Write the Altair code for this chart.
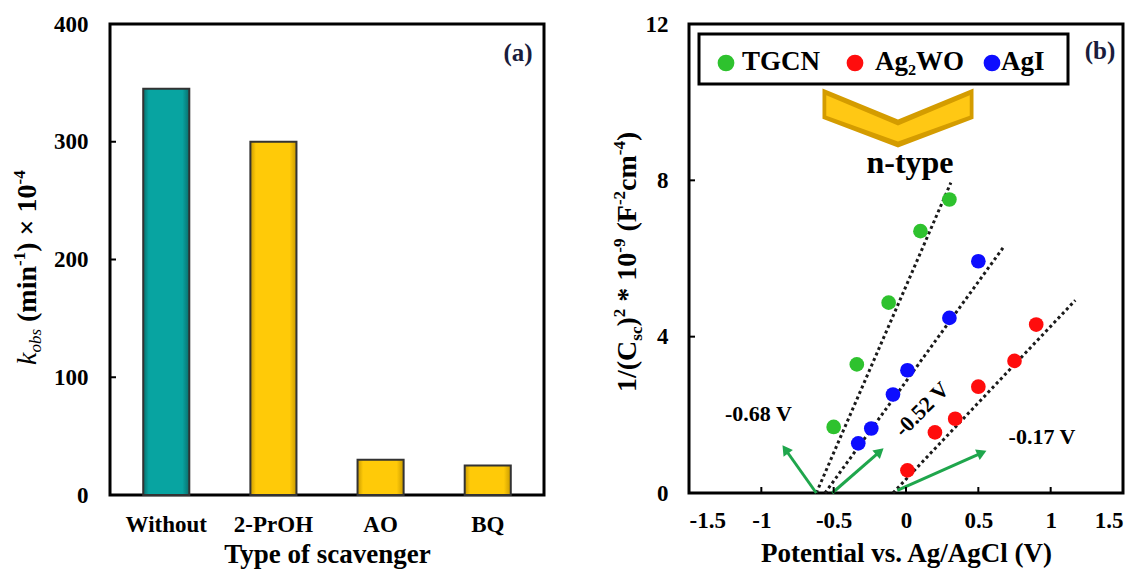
import math
import altair as alt
import pandas as pd

# ---------------- data ----------------
scavengers = ["Without", "2-PrOH", "AO", "BQ"]
kobs = [345, 300, 30, 25]
a_yticks = [0, 100, 200, 300, 400]

series_names = ["TGCN", "Ag₂WO", "AgI"]
series_colors = ["#2ec22e", "#ff0d0d", "#0d0dff"]
tgcn_x = [-0.50, -0.34, -0.12, 0.10, 0.30]
tgcn_y = [1.69, 3.29, 4.87, 6.70, 7.51]
agwo_x = [0.01, 0.20, 0.34, 0.50, 0.75, 0.90]
agwo_y = [0.58, 1.55, 1.90, 2.72, 3.38, 4.31]
agi_x = [-0.33, -0.24, -0.09, 0.01, 0.30, 0.50]
agi_y = [1.27, 1.65, 2.52, 3.14, 4.48, 5.93]

fit_x1 = [-0.62, -0.09, -0.56]
fit_y1 = [0.0, 0.0, 0.0]
fit_x2 = [0.31, 1.17, 0.67]
fit_y2 = [7.94, 4.93, 6.27]

arrow_x1 = [-0.62, -0.51, -0.06]
arrow_y1 = [0.0, 0.0, 0.07]
arrow_x2 = [-0.85, -0.16, 0.55]
arrow_y2 = [1.20, 1.13, 1.07]

ann_text = ["-0.68 V", "-0.52 V", "-0.17 V"]
ann_x = [-1.02, 0.11, 0.94]
ann_y = [2.03, 2.14, 1.44]
ann_angle = [0, 315, 0]

b_xticks = [-1.5, -1, -0.5, 0, 0.5, 1, 1.5]
b_yticks = [0, 4, 8, 12]

# ---------------- style ----------------
FONT = "Liberation Serif"
WA, HA = 434, 471
WB, HB = 434, 469
MAIN, SMALL = 28, 17
BOLD_W = {' ': 250, '(': 333, ')': 333, 'm': 833, 'i': 278, 'n': 556, '1': 500, '0': 500,
          '-': 333, '4': 500, '×': 570, '*': 500, '/': 278, 'C': 722, 'F': 611, 'c': 444,
          '2': 500, '9': 500, 's': 389}
ITAL_W = {'k': 444, 'o': 500, 'b': 500, 's': 389}


def one():
    return pd.DataFrame({"k": [0]})


def txt(t, x, y, size, weight="bold", style="normal", angle=0, align="center",
        baseline="middle", color="black", opacity=1.0):
    return alt.Chart(pd.DataFrame({"t": [t]})).mark_text(
        font=FONT, fontSize=size, fontWeight=weight, fontStyle=style, angle=angle,
        align=align, baseline=baseline, color=color, opacity=opacity
    ).encode(text="t:N", x=alt.value(x), y=alt.value(y))


def rotated_title(pieces, x_main, x_sub, x_sup, y_start):
    layers = []
    y = y_start
    for t, kind, style in pieces:
        size = MAIN if kind == "main" else SMALL
        x = {"main": x_main, "sub": x_sub, "sup": x_sup}[kind]
        table = ITAL_W if style == "italic" else BOLD_W
        lead = len(t) - len(t.lstrip(" "))
        y -= lead * table.get(" ", 250) / 1000.0 * size
        t = t.lstrip(" ")
        w = sum(table.get(ch, 500) for ch in t) / 1000.0 * size
        layers.append(txt(t, x, y, size, weight="normal" if style == "italic" else "bold",
                          style=style, angle=270, align="left", baseline="alphabetic"))
        y -= w
    return layers


# ---------------- panel (a) ----------------
df_a = pd.DataFrame({"scavenger": scavengers, "kobs": kobs})
xa_scale = alt.Scale(domain=scavengers, paddingInner=0.57, paddingOuter=0.31)
ya_scale = alt.Scale(domain=[0, 400], nice=False)
ya_axis = alt.Axis(values=a_yticks, title=None, ticks=False, tickSize=0, domain=False,
                   grid=False, labelPadding=22, labelFontSize=23)
xa = alt.X("scavenger:N", sort=scavengers, scale=xa_scale,
           axis=alt.Axis(title="Type of scavenger", labelAngle=0, ticks=False, tickSize=0,
                         domain=False, labelPadding=18, labelFontSize=23,
                         titlePadding=5, titleFontSize=27))


def grad(dark, main):
    return alt.LinearGradient(
        gradient="linear", x1=0, x2=1, y1=0, y2=0,
        stops=[alt.GradientStop(color=dark, offset=0),
               alt.GradientStop(color=main, offset=0.12),
               alt.GradientStop(color=main, offset=0.85),
               alt.GradientStop(color=dark, offset=1)])


bars_teal = alt.Chart(df_a).transform_filter(alt.datum.scavenger == "Without").mark_bar(
    color=grad("#0a6e6c", "#08a4a1"), stroke="#333333", strokeWidth=2
).encode(x=xa, y=alt.Y("kobs:Q", scale=ya_scale, axis=ya_axis))
bars_gold = alt.Chart(df_a).transform_filter(alt.datum.scavenger != "Without").mark_bar(
    color=grad("#c99a00", "#ffca08"), stroke="#333333", strokeWidth=2
).encode(x=xa, y=alt.Y("kobs:Q", scale=ya_scale, axis=ya_axis))
ticks_a = alt.Chart(pd.DataFrame({"v": a_yticks})).mark_rule(color="black", strokeWidth=2).encode(
    y=alt.Y("v:Q", scale=ya_scale, axis=ya_axis), x=alt.value(0), x2=alt.value(6))

title_a = rotated_title(
    [("k", "main", "italic"), ("obs", "sub", "italic"), (" (min", "main", "bold"),
     ("-1", "sup", "bold"), (") × 10", "main", "bold"), ("-4", "sup", "bold")],
    x_main=-74, x_sub=-69, x_sup=-85, y_start=341)
label_a = txt("(a)", 408, 29, 25, color="#1a1c3c")

chart_a = alt.layer(bars_teal, bars_gold, ticks_a, label_a, *title_a).properties(width=WA, height=HA)

# ---------------- panel (b) ----------------
xb_scale = alt.Scale(domain=[-1.5, 1.5], nice=False, zero=False)
yb_scale = alt.Scale(domain=[0, 12], nice=False, zero=False)
xb_axis = alt.Axis(values=b_xticks, title="Potential vs. Ag/AgCl (V)", ticks=False, tickSize=0,
                   domain=False, grid=False, labelPadding=16, labelFontSize=23,
                   labelExpr="datum.value + ''", titlePadding=8, titleFontSize=27)
yb_axis = alt.Axis(values=b_yticks, title=None, ticks=False, tickSize=0, domain=False,
                   grid=False, labelPadding=21, labelFontSize=23, labelExpr="datum.value + ''")


def xb(f):
    return alt.X(f, scale=xb_scale, axis=xb_axis)


def yb(f):
    return alt.Y(f, scale=yb_scale, axis=yb_axis)


rows = []
for name, xs, ys in zip(series_names, [tgcn_x, agwo_x, agi_x], [tgcn_y, agwo_y, agi_y]):
    for xv, yv in zip(xs, ys):
        rows.append({"series": name, "x": xv, "y": yv})
df_pts = pd.DataFrame(rows)

df_fit = pd.DataFrame({"series": series_names, "x1": fit_x1, "y1": fit_y1,
                       "x2": fit_x2, "y2": fit_y2})

# arrows: shaft + triangle head, head direction derived from the data in screen space
sx, sy = WB / 3.0, HB / 12.0
hx, hy, hang, ex, ey = [], [], [], [], []
for x1, y1, x2, y2 in zip(arrow_x1, arrow_y1, arrow_x2, arrow_y2):
    dxp, dyp = (x2 - x1) * sx, -(y2 - y1) * sy
    L = math.hypot(dxp, dyp)
    ux, uy = dxp / L, dyp / L
    hang.append(math.degrees(math.atan2(ux, -uy)) % 360)
    hx.append(x2 - 4 * ux / sx)
    hy.append(y2 + 4 * uy / sy)
    ex.append(x2 - 6 * ux / sx)
    ey.append(y2 + 6 * uy / sy)
df_arrow = pd.DataFrame({"x1": arrow_x1, "y1": arrow_y1, "x2": ex, "y2": ey,
                         "hx": hx, "hy": hy, "ang": hang})
df_ann = pd.DataFrame({"t": ann_text, "x": ann_x, "y": ann_y, "a": ann_angle})
df_ticks_x = pd.DataFrame({"v": b_xticks})
df_ticks_y = pd.DataFrame({"v": b_yticks})

fit_lines = alt.Chart(df_fit).mark_rule(color="#1a1a1a", strokeWidth=3, strokeDash=[3, 3]).encode(
    x=xb("x1:Q"), y=yb("y1:Q"), x2="x2:Q", y2="y2:Q")
shafts = alt.Chart(df_arrow).mark_rule(color="#1fa64c", strokeWidth=3).encode(
    x=xb("x1:Q"), y=yb("y1:Q"), x2="x2:Q", y2="y2:Q")
heads = alt.Chart(df_arrow).mark_point(shape="triangle-up", filled=True, size=130,
                                       color="#1fa64c", opacity=1).encode(
    x=xb("hx:Q"), y=yb("hy:Q"), angle=alt.Angle("ang:Q", scale=None))
points = alt.Chart(df_pts).mark_circle(size=215, opacity=1).encode(
    x=xb("x:Q"), y=yb("y:Q"),
    color=alt.Color("series:N", scale=alt.Scale(domain=series_names, range=series_colors),
                    legend=None))
ann = alt.Chart(df_ann).mark_text(font=FONT, fontSize=22, fontWeight="bold", color="black").encode(
    x=xb("x:Q"), y=yb("y:Q"), text="t:N", angle=alt.Angle("a:Q", scale=None))
ticks_bx = alt.Chart(df_ticks_x).mark_rule(color="black", strokeWidth=2).encode(
    x=xb("v:Q"), y=alt.value(HB), y2=alt.value(HB - 6))
ticks_by = alt.Chart(df_ticks_y).mark_rule(color="black", strokeWidth=2).encode(
    y=yb("v:Q"), x=alt.value(0), x2=alt.value(6))

# legend box (drawn inside panel b, as in the figure)
legend_box = alt.Chart(one()).mark_rect(fillOpacity=0, stroke="black", strokeWidth=3).encode(
    x=alt.value(10), x2=alt.value(379), y=alt.value(10), y2=alt.value(60))
leg_dot_x = [37, 166, 303]
leg_txt_x = [53, 186, 312]
legend_layers = [legend_box]
for name, col, dx, tx in zip(series_names, series_colors, leg_dot_x, leg_txt_x):
    legend_layers.append(alt.Chart(one()).mark_circle(size=280, color=col, opacity=1).encode(
        x=alt.value(dx), y=alt.value(39)))
    legend_layers.append(txt(name, tx, 38, 27, align="left"))

chev_outer = alt.Chart(one()).mark_point(
    shape="M-1,-0.39L0,0.02L1,-0.39L1,0.01L0,0.39L-1,0.01Z", filled=True, size=22800,
    color="#d49c00", opacity=1).encode(x=alt.value(209), y=alt.value(94))
chev_inner = alt.Chart(one()).mark_point(
    shape="M-0.95,-0.30L0,0.10L0.95,-0.30L0.95,-0.03L0,0.31L-0.95,-0.03Z", filled=True, size=22800,
    color="#ffc814", opacity=1).encode(x=alt.value(209), y=alt.value(94))
ntype = txt("n-type", 221, 139, 32)
label_b = txt("(b)", 411, 27, 25, color="#1a1c3c")

title_b = rotated_title(
    [("1/(C", "main", "bold"), ("sc", "sub", "bold"), (")", "main", "bold"), ("2", "sup", "bold"),
     (" * 10", "main", "bold"), ("-9", "sup", "bold"), (" (F", "main", "bold"),
     ("-2", "sup", "bold"), ("cm", "main", "bold"), ("-4", "sup", "bold"), (")", "main", "bold")],
    x_main=-53, x_sub=-47, x_sup=-64, y_start=368)

chart_b = alt.layer(fit_lines, shafts, heads, points, ann, ticks_bx, ticks_by,
                    *legend_layers, chev_outer, chev_inner, ntype, label_b, *title_b
                    ).properties(width=WB, height=HB)

chart = alt.hconcat(chart_a, chart_b, spacing=63).properties(
    padding={"left": 1, "top": 3, "right": 5, "bottom": 0}
).configure_view(stroke="black", strokeWidth=3).configure_axis(
    labelFont=FONT, labelFontWeight="bold", labelColor="black",
    titleFont=FONT, titleFontWeight="bold", titleColor="black"
)

chart.save("out.html", embed_options={"renderer": "svg", "actions": False})
